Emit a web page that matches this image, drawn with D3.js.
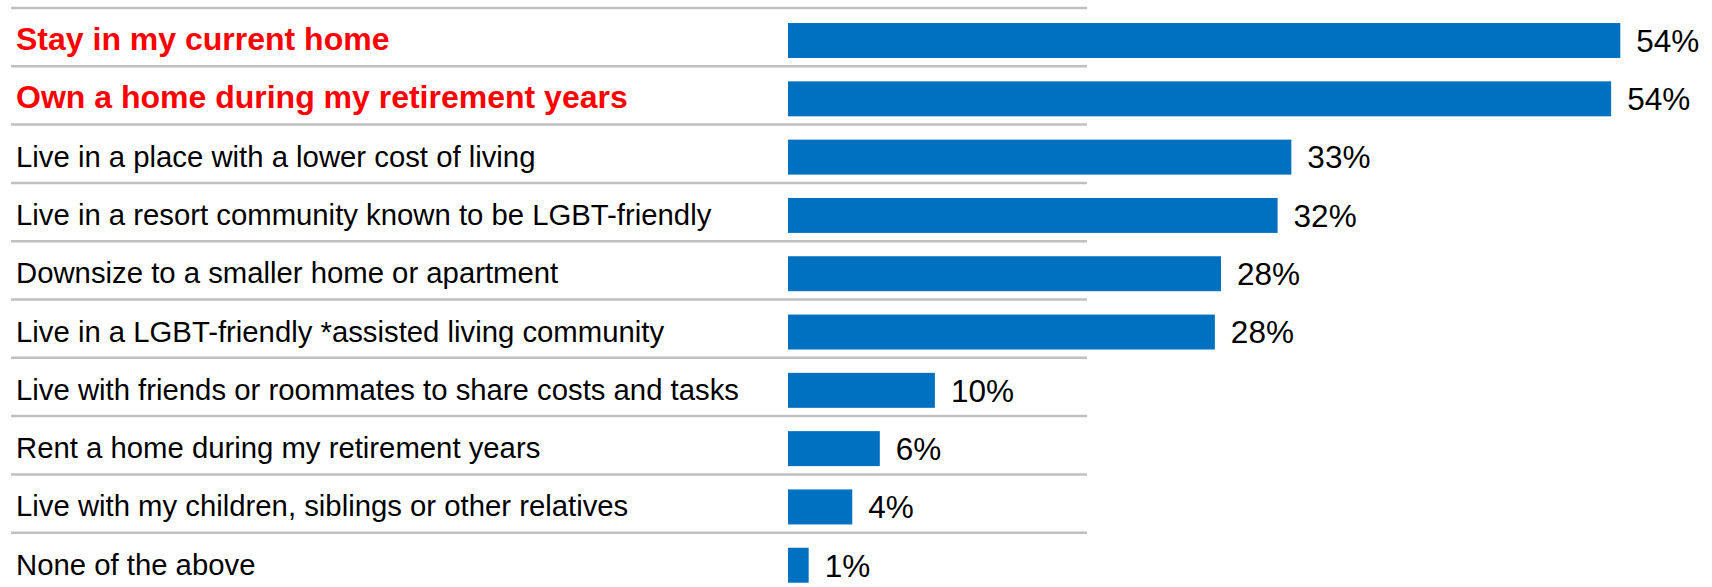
<!DOCTYPE html>
<html>
<head>
<meta charset="utf-8">
<script src="https://cdn.jsdelivr.net/npm/d3@7"></script>
<style>
  html, body { margin: 0; padding: 0; background: #ffffff; }
  svg { display: block; }
</style>
</head>
<body>
<svg id="chart" width="1712" height="587"></svg>
<script>
const categories = [
  "Stay in my current home",
  "Own a home during my retirement years",
  "Live in a place with a lower cost of living",
  "Live in a resort community known to be LGBT-friendly",
  "Downsize to a smaller home or apartment",
  "Live in a LGBT-friendly *assisted living community",
  "Live with friends or roommates to share costs and tasks",
  "Rent a home during my retirement years",
  "Live with my children, siblings or other relatives",
  "None of the above"
];
const values = [54.4, 53.8, 32.9, 32.0, 28.3, 27.9, 9.6, 6.0, 4.2, 1.35];
const valueLabels = ["54%", "54%", "33%", "32%", "28%", "28%", "10%", "6%", "4%", "1%"];
const highlighted = ["Stay in my current home", "Own a home during my retirement years"];

const svg = d3.select("#chart");
const FONT = "'Liberation Sans', Arial, Helvetica, sans-serif";

const step = 58.3;
const yTop = 8;
const x = d3.scaleLinear().domain([0, 60]).range([788, 788 + 918]);
const y = d3.scaleBand()
  .domain(categories)
  .range([yTop, yTop + step * categories.length])
  .paddingInner(0.4)
  .paddingOuter(0.2)
  .align(0.645);

const data = categories.map((c, i) => ({ c, v: values[i], lab: valueLabels[i] }));

// separator lines (one above each row)
svg.append("g").selectAll("line")
  .data(categories)
  .join("line")
  .attr("x1", 11).attr("x2", 1087)
  .attr("y1", (d, i) => yTop + step * i)
  .attr("y2", (d, i) => yTop + step * i)
  .attr("stroke", "#c0c0c0")
  .attr("stroke-width", 2.5);

// bars
svg.append("g").selectAll("rect")
  .data(data)
  .join("rect")
  .attr("x", x(0))
  .attr("y", d => y(d.c))
  .attr("width", d => x(d.v) - x(0))
  .attr("height", y.bandwidth())
  .attr("fill", "#0070c0");

// category labels
svg.append("g").selectAll("text")
  .data(data)
  .join("text")
  .attr("x", 16)
  .attr("y", d => y(d.c) + y.bandwidth() / 2 + 9.5)
  .attr("font-family", FONT)
  .attr("font-size", d => highlighted.includes(d.c) ? 32 : 29.3)
  .attr("font-weight", d => highlighted.includes(d.c) ? "bold" : "normal")
  .attr("fill", d => highlighted.includes(d.c) ? "#ff0000" : "#000000")
  .text(d => d.c);

// value labels
svg.append("g").selectAll("text")
  .data(data)
  .join("text")
  .attr("x", d => x(d.v) + 16)
  .attr("y", d => y(d.c) + y.bandwidth() / 2 + 11.3)
  .attr("font-family", FONT)
  .attr("font-size", 31.5)
  .attr("fill", "#000000")
  .text(d => d.lab);
</script>
</body>
</html>
